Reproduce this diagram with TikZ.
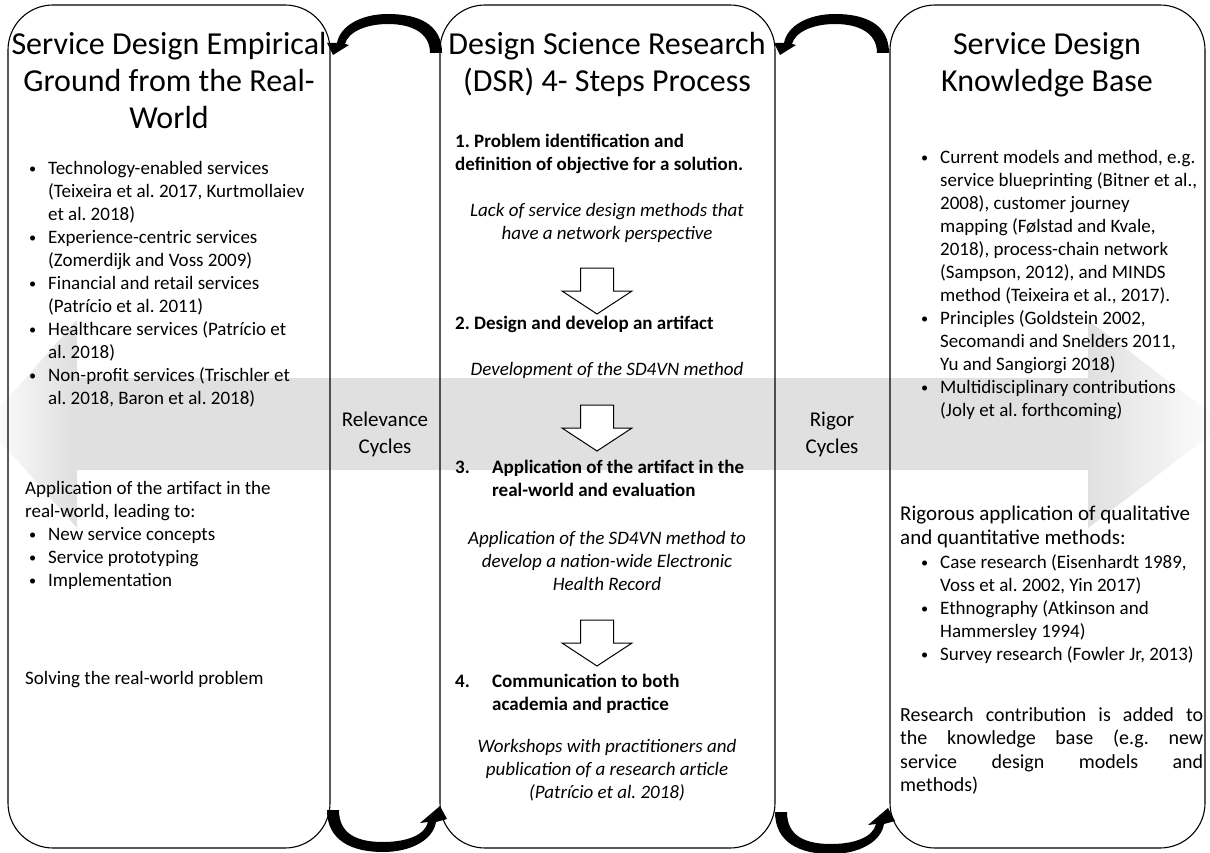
\documentclass[tikz,border=0pt]{standalone}
\usepackage{fontspec}
\setmainfont{Carlito}
\usepackage{graphicx}
\usetikzlibrary{positioning}
\frenchspacing

% grey band that fades out at both tips
\pgfdeclarehorizontalshading{bandfade}{100bp}{color(0bp)=(white); color(25bp)=(white); color(28.5bp)=(black!12); color(69.5bp)=(black!12); color(75bp)=(white); color(100bp)=(white)}

\newcommand{\bul}{\makebox[19pt][l]{\raisebox{1.5pt}{\scalebox{0.75}{\textbullet}}}}
\newcommand{\ind}{\hspace*{19pt}}

\tikzset{
  box/.style={draw, line width=1.1pt, rounded corners=45pt, rectangle},
  body/.style={font=\fontsize{19}{23}\selectfont, align=left, inner sep=0pt},
  bodyw/.style={font=\fontsize{20}{23.5}\selectfont, align=left, inner sep=0pt},
  stepi/.style={font=\fontsize{19}{23}\selectfont\itshape, align=center, inner sep=0pt},
  stepb/.style={font=\fontsize{19}{23}\selectfont\bfseries, align=left, inner sep=0pt},
  head/.style={font=\fontsize{32}{37}\selectfont, align=center, inner sep=0pt},
  cyc/.style={font=\fontsize{21}{27}\selectfont, align=center, inner sep=0pt},
  downarr/.pic={
    \draw[line width=1pt, fill=white] (-16.5,0) -- (16.5,0) -- (16.5,23) -- (35,23)
      -- (0,46) -- (-35,23) -- (-16.5,23) -- cycle;
  },
  toparr/.pic={
    \fill (54,0) .. controls (54,-29) and (30,-39) .. (0,-39) .. controls (-27,-39) and (-48,-27) .. (-51,-10)
      -- (-61,-10) -- (-55,2) -- (-39,-8) -- (-43,-9)
      .. controls (-40,-21) and (-22,-29) .. (0,-29) .. controls (24,-29) and (42,-20) .. (42,0) -- cycle;
  },
  botarr/.pic={
    \fill (-56,0) .. controls (-56,30) and (-32,42) .. (0,42) .. controls (28,42) and (50,30) .. (53,12)
      -- (64,9) -- (57,-4) -- (37,13) -- (45,12)
      .. controls (42,25) and (24,32) .. (0,32) .. controls (-26,32) and (-44,24) .. (-44,0) -- cycle;
  }
}

\begin{document}
\begin{tikzpicture}[x=1pt, y=-1pt]

  \useasboundingbox (0,0) rectangle (1210,853);

  % background double arrow
  \shade[shading=bandfade] (-15,424) -- (77,320) -- (77,378) -- (1088,378) -- (1088,320) -- (1225,424)
    -- (1088,528) -- (1088,470) -- (77,470) -- (77,528) -- cycle;

  % the three columns
  \node[box, minimum width=322pt, minimum height=843pt] (lbox) at (169,426.5) {};
  \node[box, minimum width=335pt, minimum height=843pt] (mbox) at (607.5,426.5) {};
  \node[box, minimum width=315pt, minimum height=843pt] (rbox) at (1047.5,426.5) {};

  % left column
  \node[head, anchor=north] (lhead) at (169,32) {Service Design Empirical\\Ground from the Real-\\World};
  \node[body, anchor=north west] (lsvc) at (29,161.5) {\bul Technology-enabled services\\
    \ind(Teixeira et al. 2017, Kurtmollaiev\\ \ind et al. 2018)\\
    \bul Experience-centric services\\ \ind(Zomerdijk and Voss 2009)\\
    \bul Financial and retail services\\ \ind(Patrício et al. 2011)\\
    \bul Healthcare services (Patrício et\\ \ind al. 2018)\\
    \bul Non-profit services (Trischler et\\ \ind al. 2018, Baron et al. 2018)};
  \node[body, anchor=north west] (lapp) at (25,481.5) {Application of the artifact in the\\
    real-world, leading to:\\ \hspace*{4pt}\bul New service concepts\\
    \hspace*{4pt}\bul Service prototyping\\ \hspace*{4pt}\bul Implementation};
  \node[body, anchor=west] (lsolve) at (25,680) {Solving the real-world problem};

  % middle column
  \node[head, anchor=north] (mhead) at (607,32) {Design Science Research\\(DSR) 4- Steps Process};
  \node[stepb, anchor=north west] (s1) at (455,133.5) {1. Problem identification and\\definition of objective for a solution.};
  \node[stepi, anchor=north] (i1) at (607,203.5) {Lack of service design methods that\\have a network perspective};
  \pic at (597,268) {downarr};
  \node[stepb, anchor=west] (s2) at (455,324) {2. Design and develop an artifact};
  \node[stepi] (i2) at (607,370) {Development of the SD4VN method};
  \pic at (597,405) {downarr};
  \node[stepb, anchor=north west] (s3) at (455,459.5) {\makebox[37pt][l]{3.}Application of the artifact in the\\
    \hspace*{37pt}real-world and evaluation};
  \node[stepi, anchor=north] (i3) at (607,531.5) {Application of the SD4VN method to\\develop a nation-wide Electronic\\Health Record};
  \pic at (597,620) {downarr};
  \node[stepb, anchor=north west] (s4) at (455,673.5) {\makebox[37pt][l]{4.}Communication to both\\
    \hspace*{37pt}academia and practice};
  \node[stepi, anchor=north] (i4) at (607,739.5) {Workshops with practitioners and\\publication of a research article\\(Patrício et al. 2018)};

  % right column
  \node[head, anchor=north] (rhead) at (1047,32) {Service Design\\Knowledge Base};
  \node[body, anchor=north west] (rmod) at (921,150.5) {\bul Current models and method, e.g.\\
    \ind service blueprinting (Bitner et al.,\\ \ind 2008), customer journey\\
    \ind mapping (Følstad and Kvale,\\ \ind 2018), process-chain network\\
    \ind(Sampson, 2012), and MINDS\\ \ind method (Teixeira et al., 2017).\\
    \bul Principles (Goldstein 2002,\\ \ind Secomandi and Snelders 2011,\\ \ind Yu and Sangiorgi 2018)\\
    \bul Multidisciplinary contributions\\ \ind(Joly et al. forthcoming)};
  \node[bodyw, font=\fontsize{21}{24}\selectfont, anchor=north west] (rrig) at (900,505.5) {Rigorous application of qualitative\\
    and quantitative methods:};
  \node[body, anchor=north west] (rmeth) at (921,554.5) {\bul Case research (Eisenhardt 1989,\\ \ind Voss et al. 2002, Yin 2017)\\
    \bul Ethnography (Atkinson and\\ \ind Hammersley 1994)\\
    \bul Survey research (Fowler Jr, 2013)};
  \node[bodyw, anchor=north west] (rcon) at (900,707) {\makebox[303pt][s]{Research contribution is added to}\\
    \makebox[303pt][s]{the knowledge base (e.g. new}\\
    \makebox[303pt][s]{service design models and}\\ methods)};

  % cycle labels
  \node[cyc] (relv) at (385,434) {Relevance\\Cycles};
  \node[cyc] (rigr) at (832,434) {Rigor\\Cycles};

  % curved cycle arrows between the columns
  \pic at (388,53) {toparr};
  \pic at (835,53) {toparr};
  \pic at (383,810) {botarr};
  \pic at (831,812) {botarr};

\end{tikzpicture}
\end{document}
